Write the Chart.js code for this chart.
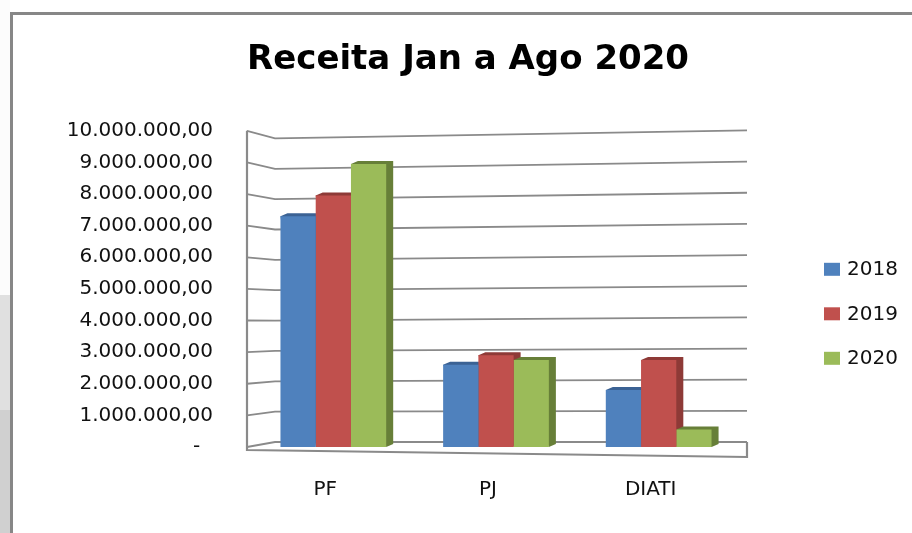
<!DOCTYPE html>
<html>
<head>
<meta charset="utf-8">
<title>Receita Jan a Ago 2020</title>
<script src="https://cdn.jsdelivr.net/npm/chart.js@4.4.0/dist/chart.umd.min.js"></script>
<style>
  html, body { margin: 0; padding: 0; background: #fff; }
  body { width: 912px; height: 533px; overflow: hidden; position: relative; }
  #lateral { position: absolute; left: 0; top: 0; width: 10px; height: 533px;
    background: linear-gradient(#fcfcfc 0, #fcfcfc 295px, #e0e0e0 295px, #e0e0e0 410px, #d0d0d0 410px); }
  #moldura { position: absolute; left: 10px; top: 12px; width: 920px; height: 540px; border: 3px solid #878787; box-sizing: border-box; }
  #grafico { position: absolute; left: 0; top: 0; width: 912px; height: 533px; }
</style>
</head>
<body>
<div id="lateral"></div>
<div id="moldura"></div>
<div id="grafico"><canvas id="receita"></canvas></div>
<script>
// dados
const categorias = ["PF", "PJ", "DIATI"];
const anos = ["2018", "2019", "2020"];
const valores2018 = [7300000, 2600000, 1800000];
const valores2019 = [7950000, 2900000, 2750000];
const valores2020 = [8950000, 2750000, 550000];
const yTicks = [0, 1000000, 2000000, 3000000, 4000000, 5000000, 6000000, 7000000, 8000000, 9000000, 10000000];

const cores = ["#4F81BD", "#C0504D", "#9BBB59"];
const coresEscuras = ["#3B6294", "#8E3A37", "#677F38"];

// formato 10.000.000,00 (zero aparece como traco)
function formataValor(v) {
  if (v === 0) return "-  ";
  const inteiro = Math.round(v).toString().replace(/\B(?=(\d{3})+(?!\d))/g, ".");
  return inteiro + ",00";
}

/*===== PAREDES, GRADE E LATERAIS DAS BARRAS (efeito 3D) =====*/
const efeito3d = {
  id: "efeito3d",
  beforeDatasetsDraw(chart) {
    const ctx = chart.ctx;
    const area = chart.chartArea;
    const y = chart.scales.y;
    const base = y.getPixelForValue(0);
    const frente = area.left - 5;
    const fundo = area.left + 23;
    const direita = area.right + 7;
    const costas = (v) => base - 5 - (base - y.getPixelForValue(v)) * 0.96;
    const inclina = (v) => (v / yTicks[yTicks.length - 1]) * 8;

    ctx.save();
    ctx.strokeStyle = "#8a8a8a";
    ctx.lineWidth = 1.8;
    yTicks.forEach((v) => {
      const yf = y.getPixelForValue(v);
      const yb = costas(v);
      ctx.beginPath();
      ctx.moveTo(frente, yf);
      ctx.lineTo(fundo, yb);
      ctx.lineTo(direita, yb - inclina(v));
      ctx.stroke();
    });
    // eixo vertical e chao
    ctx.lineWidth = 2.2;
    ctx.beginPath();
    ctx.moveTo(frente, y.getPixelForValue(yTicks[yTicks.length - 1]));
    ctx.lineTo(frente, base + 3);
    ctx.lineTo(direita, base + 10);
    ctx.lineTo(direita, costas(0));
    ctx.stroke();

    // laterais e topos das barras
    const dx = 7, dy = -3;
    chart.data.datasets.forEach((ds, i) => {
      const meta = chart.getDatasetMeta(i);
      ctx.fillStyle = coresEscuras[i];
      meta.data.forEach((bar) => {
        const l = bar.x - bar.width / 2, r = bar.x + bar.width / 2;
        ctx.beginPath();
        ctx.moveTo(l, bar.y);
        ctx.lineTo(l + dx, bar.y + dy);
        ctx.lineTo(r + dx, bar.y + dy);
        ctx.lineTo(r + dx, bar.base + dy);
        ctx.lineTo(r, bar.base);
        ctx.closePath();
        ctx.fill();
      });
    });
    ctx.restore();
  },
  afterDraw(chart) {
    // legenda a direita
    const ctx = chart.ctx;
    const area = chart.chartArea;
    ctx.save();
    ctx.font = "20px 'DejaVu Sans'";
    ctx.textBaseline = "middle";
    chart.data.datasets.forEach((ds, i) => {
      const cy = area.top + 138 + i * 44.5;
      const x = area.right + 84;
      ctx.fillStyle = ds.backgroundColor;
      ctx.fillRect(x, cy - 6, 16, 13);
      ctx.fillStyle = "#111";
      ctx.fillText(ds.label, x + 23, cy + 1);
    });
    ctx.restore();
  }
};

new Chart(document.getElementById("receita"), {
  type: "bar",
  data: {
    labels: categorias,
    datasets: [
      { label: anos[0], data: valores2018, backgroundColor: cores[0] },
      { label: anos[1], data: valores2019, backgroundColor: cores[1] },
      { label: anos[2], data: valores2020, backgroundColor: cores[2] }
    ]
  },
  options: {
    responsive: true,
    maintainAspectRatio: false,
    animation: false,
    layout: { padding: { left: 24, right: 0, top: 0, bottom: 0 } },
    datasets: { bar: { categoryPercentage: 0.65, barPercentage: 1.0 } },
    plugins: {
      legend: { display: false },
      tooltip: { enabled: false },
      title: {
        display: true,
        text: "Receita Jan a Ago 2020",
        color: "#000",
        font: { family: "DejaVu Sans", weight: "bold", size: 34 },
        padding: { top: 40, bottom: 50 }
      }
    },
    scales: {
      x: {
        grid: { display: false, drawTicks: false },
        border: { display: false },
        ticks: { color: "#111", font: { family: "DejaVu Sans", size: 20 }, padding: 31, labelOffset: -8 }
      },
      y: {
        min: 0,
        max: 10000000,
        afterBuildTicks: (axis) => { axis.ticks = yTicks.map((v) => ({ value: v })); },
        afterFit: (axis) => { axis.width = 228; },
        grid: { display: false, drawTicks: false },
        border: { display: false },
        ticks: {
          color: "#111",
          font: { family: "DejaVu Sans", size: 20 },
          padding: 39,
          callback: (v) => formataValor(v)
        }
      },
      // espaco reservado para a legenda
      espacoLegenda: {
        type: "linear",
        position: "right",
        display: true,
        afterFit: (axis) => { axis.width = 172; },
        grid: { display: false, drawTicks: false },
        border: { display: false },
        ticks: { display: false }
      }
    }
  },
  plugins: [efeito3d]
});
</script>
</body>
</html>
